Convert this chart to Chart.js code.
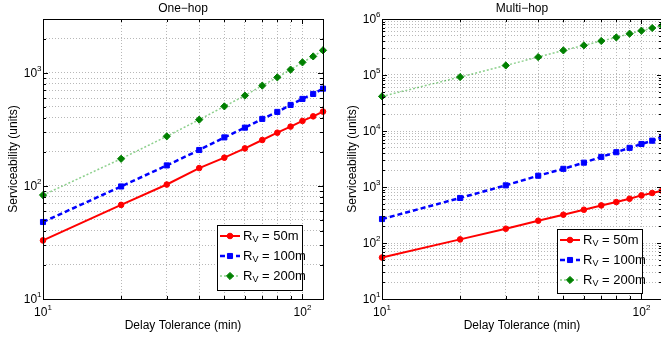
<!DOCTYPE html>
<html>
<head>
<meta charset="utf-8">
<script src="https://cdn.jsdelivr.net/npm/chart.js@4/dist/chart.umd.min.js"></script>
<style>
  html, body { margin: 0; padding: 0; background: #fff; overflow: hidden; width: 661px; height: 340px; }
  canvas { position: absolute; top: 0; }
  #oneHop { left: 0; }
  #multiHop { left: 330px; }
</style>
</head>
<body>
<canvas id="oneHop" width="330" height="340"></canvas>
<canvas id="multiHop" width="340" height="340"></canvas>
<script>
// delay tolerance (min)
const delay = [10, 20, 30, 40, 50, 60, 70, 80, 90, 100, 110, 120];

// one-hop serviceability
const oneHop50  = [33, 68, 103, 144, 178, 215, 255, 296, 335, 376, 413, 455];
const oneHop100 = [48, 99, 152, 208, 269, 328, 392, 452, 521, 589, 652, 726];
const oneHop200 = [83, 174, 275, 386, 506, 630, 772, 914, 1070, 1240, 1400, 1585];

// multi-hop serviceability
const multiHop50  = [55, 116, 180, 250, 320, 393, 469, 539, 618, 708, 782, 860];
const multiHop100 = [268, 637, 1070, 1590, 2110, 2720, 3450, 4180, 5000, 5860, 6710, 7820];
const multiHop200 = [41500, 92000, 148000, 209000, 275000, 338000, 405000, 469000, 547000, 618000, 690000, 759000];

const radii = ['50m', '100m', '200m'];
const xLimits = [10, 120];
const oneHopY = [10, 3000];
const multiHopY = [10, 1e6];

const FONT = '"Liberation Sans", Arial, Helvetica, sans-serif';
const GRID = '#b8b8b8';

function logGrid(min, max) {
  const out = [];
  for (let e = Math.floor(Math.log10(min)); Math.pow(10, e) <= max; e++) {
    for (let m = 1; m <= 9; m++) {
      const v = m * Math.pow(10, e);
      if (v >= min && v <= max) out.push(v);
    }
  }
  return out;
}

function isPow10(v) {
  const l = Math.log10(v);
  return Math.abs(l - Math.round(l)) < 1e-9;
}

// "10" with a raised exponent
function powLabel(ctx, v, x, y, align) {
  const exp = String(Math.round(Math.log10(v)));
  ctx.font = '12px ' + FONT;
  const bw = ctx.measureText('10').width;
  ctx.font = '8px ' + FONT;
  const ew = ctx.measureText(exp).width;
  const x0 = align === 'right' ? x - bw - ew : x - (bw + ew) / 2;
  ctx.textAlign = 'left';
  ctx.textBaseline = 'middle';
  ctx.font = '12px ' + FONT;
  ctx.fillText('10', x0, y);
  ctx.font = '8px ' + FONT;
  ctx.fillText(exp, x0 + bw, y - 5);
}

const frame = {
  id: 'frame',
  afterDraw(chart, args, opts) {
    const ctx = chart.ctx;
    const a = chart.chartArea;
    const xs = chart.scales.x, ys = chart.scales.y;
    ctx.save();
    ctx.setLineDash([]);
    ctx.strokeStyle = '#000';
    ctx.lineWidth = 1;

    // inward tick marks on all four sides
    ctx.beginPath();
    xs.ticks.forEach(t => {
      const px = Math.round(xs.getPixelForValue(t.value)) + 0.5;
      const len = isPow10(t.value) ? 5 : 3;
      ctx.moveTo(px, a.bottom); ctx.lineTo(px, a.bottom - len);
      ctx.moveTo(px, a.top); ctx.lineTo(px, a.top + len);
    });
    ys.ticks.forEach(t => {
      const py = Math.round(ys.getPixelForValue(t.value)) + 0.5;
      const len = isPow10(t.value) ? 5 : 3;
      ctx.moveTo(a.left, py); ctx.lineTo(a.left + len, py);
      ctx.moveTo(a.right, py); ctx.lineTo(a.right - len, py);
    });
    ctx.stroke();
    ctx.strokeRect(Math.round(a.left) + 0.5, Math.round(a.top) + 0.5,
                   Math.round(a.right - a.left), Math.round(a.bottom - a.top));

    // tick labels
    ctx.fillStyle = '#000';
    xs.ticks.filter(t => isPow10(t.value)).forEach(t => {
      powLabel(ctx, t.value, xs.getPixelForValue(t.value), a.bottom + 14, 'center');
    });
    ys.ticks.filter(t => isPow10(t.value)).forEach(t => {
      powLabel(ctx, t.value, a.left - 1.5, ys.getPixelForValue(t.value) + 0.5, 'right');
    });

    // title and axis titles
    ctx.font = '12px ' + FONT;
    ctx.textAlign = 'center';
    ctx.textBaseline = 'middle';
    const cx = (a.left + a.right) / 2;
    ctx.fillText(opts.title, cx, 9);
    ctx.fillText('Delay Tolerance (min)', cx, 326);
    ctx.save();
    ctx.translate(a.left - 29, (a.top + a.bottom) / 2);
    ctx.rotate(-Math.PI / 2);
    ctx.fillText('Serviceability (units)', 0, 0);
    ctx.restore();

    // legend box
    const b = opts.box;
    ctx.fillStyle = '#fff';
    ctx.fillRect(b.x, b.y, b.w, b.h);
    ctx.strokeStyle = '#000';
    ctx.strokeRect(b.x + 0.5, b.y + 0.5, b.w, b.h);
    chart.data.datasets.forEach((ds, i) => {
      const ry = b.y + 11 + 20 * i;
      ctx.save();
      ctx.strokeStyle = ds.borderColor;
      ctx.lineWidth = ds.borderWidth;
      ctx.setLineDash(ds.borderDash || []);
      ctx.beginPath();
      ctx.moveTo(b.x + 3, ry); ctx.lineTo(b.x + 23, ry);
      ctx.stroke();
      ctx.setLineDash([]);
      ctx.fillStyle = ds.pointBackgroundColor;
      ctx.strokeStyle = ds.pointBorderColor;
      ctx.lineWidth = ds.pointBorderWidth;
      Chart.helpers.drawPoint(ctx, {pointStyle: ds.pointStyle, radius: ds.pointRadius, rotation: 0, borderWidth: ds.pointBorderWidth}, b.x + 13, ry);
      ctx.restore();
      ctx.fillStyle = '#000';
      ctx.textAlign = 'left';
      ctx.textBaseline = 'middle';
      let tx = b.x + 26;
      ctx.font = '13px ' + FONT;
      ctx.fillText('R', tx, ry);
      tx += ctx.measureText('R').width;
      ctx.font = '9px ' + FONT;
      ctx.fillText('V', tx, ry + 4);
      tx += ctx.measureText('V').width;
      ctx.font = '13px ' + FONT;
      ctx.fillText(' = ' + radii[i], tx, ry);
    });
    ctx.restore();
  }
};

function points(vals) {
  return delay.map((d, i) => ({x: d, y: vals[i]}));
}

function makeChart(id, title, series, yLim, yAxisW, padRight, box) {
  return new Chart(document.getElementById(id), {
    type: 'line',
    data: {
      datasets: [
        {
          label: 'R_V = ' + radii[0], data: points(series[0]),
          borderColor: '#ff0000', borderWidth: 2,
          pointStyle: 'circle', pointRadius: 2.8,
          pointBackgroundColor: '#ff0000', pointBorderColor: '#ff0000', pointBorderWidth: 1
        },
        {
          label: 'R_V = ' + radii[1], data: points(series[1]),
          borderColor: '#0000ff', borderWidth: 2.5, borderDash: [5, 3],
          pointStyle: 'rect', pointRadius: 3.6,
          pointBackgroundColor: '#0000ff', pointBorderColor: '#0000ff', pointBorderWidth: 1
        },
        {
          label: 'R_V = ' + radii[2], data: points(series[2]),
          borderColor: 'rgba(0,150,0,0.45)', borderWidth: 1.5, borderDash: [2, 2],
          pointStyle: 'rectRot', pointRadius: 3.6,
          pointBackgroundColor: '#008000', pointBorderColor: '#008000', pointBorderWidth: 1
        }
      ]
    },
    options: {
      responsive: false,
      animation: false,
      events: [],
      clip: false,
      layout: {padding: {top: 19, right: padRight, left: 0, bottom: 0}},
      plugins: {
        legend: {display: false},
        tooltip: {enabled: false},
        frame: {title: title, box: box}
      },
      scales: {
        x: {
          type: 'logarithmic', min: xLimits[0], max: xLimits[1],
          afterBuildTicks: s => { s.ticks = logGrid(xLimits[0], xLimits[1]).map(v => ({value: v})); },
          afterFit: s => { s.height = 41; },
          ticks: {display: false},
          grid: {color: GRID, drawTicks: false},
          border: {display: false, dash: [1, 2]}
        },
        y: {
          type: 'logarithmic', min: yLim[0], max: yLim[1],
          afterBuildTicks: s => { s.ticks = logGrid(yLim[0], yLim[1]).map(v => ({value: v})); },
          afterFit: s => { s.width = yAxisW; },
          ticks: {display: false},
          grid: {color: GRID, drawTicks: false},
          border: {display: false, dash: [1, 2]}
        }
      }
    },
    plugins: [frame]
  });
}

makeChart('oneHop', 'One\u2212hop', [oneHop50, oneHop100, oneHop200], oneHopY, 43, 7,
          {x: 217, y: 225, w: 85, h: 65});
makeChart('multiHop', 'Multi\u2212hop', [multiHop50, multiHop100, multiHop200], multiHopY, 52, 8,
          {x: 227, y: 229, w: 85, h: 64});
</script>
</body>
</html>
